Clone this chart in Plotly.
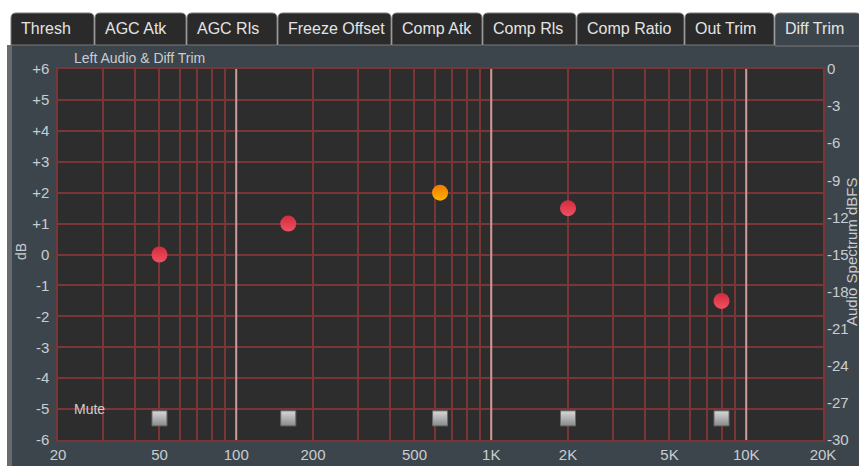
import math
import plotly.graph_objects as go

# ---------------- data ----------------
band_freqs = [50, 160, 630, 2000, 8000]
band_gain_db = [0, 1, 2, 1.5, -1.5]
band_selected = [False, False, True, False, False]
mute_slider_db = [-5.3, -5.3, -5.3, -5.3, -5.3]

x_label_vals = [20, 50, 100, 200, 500, 1000, 2000, 5000, 10000, 20000]
x_label_text = ["20", "50", "100", "200", "500", "1K", "2K", "5K", "10K", "20K"]
x_grid_vals = [20, 30, 40, 50, 60, 70, 80, 90,
               100, 200, 300, 400, 500, 600, 700, 800, 900,
               1000, 2000, 3000, 4000, 5000, 6000, 7000, 8000, 9000,
               10000, 20000]
decade_lines = [100, 1000, 10000]

y_left_vals = [6, 5, 4, 3, 2, 1, 0, -1, -2, -3, -4, -5, -6]
y_left_text = ["+6", "+5", "+4", "+3", "+2", "+1", "0", "-1", "-2", "-3", "-4", "-5", "-6"]
y_right_vals = [0, -3, -6, -9, -12, -15, -18, -21, -24, -27, -30]
y_right_text = ["0", "-3", "-6", "-9", "-12", "-15", "-18", "-21", "-24", "-27", "-30"]

tab_names = ["Thresh", "AGC Atk", "AGC Rls", "Freeze Offset", "Comp Atk",
             "Comp Rls", "Comp Ratio", "Out Trim", "Diff Trim"]
active_tab = "Diff Trim"

# ---------------- layout geometry (pixels) ----------------
W, H = 859, 466
PL, PR, PT, PB = 58, 823, 69, 440
tab_edges = [11, 95, 187, 278, 392, 483, 577, 685, 775, 862]
TAB_TOP, TAB_BOT = 13, 45


def X(px):
    return (px - PL) / (PR - PL)


def Y(py):
    return (PB - py) / (PB - PT)


PANEL = "#3c454c"
PLOT_BG = "#2d2d2d"
GRID = "#7a3636"
TXT = "#c9cdd1"
FONT = "Liberation Sans"

fig = go.Figure()

# decade highlight lines
for f in decade_lines:
    fig.add_trace(go.Scatter(x=[f, f], y=[y_left_vals[-1], y_left_vals[0]], mode="lines",
                             line=dict(color="#c99a9a", width=2), hoverinfo="skip",
                             showlegend=False))

# mute sliders
fig.add_trace(go.Scatter(
    x=band_freqs, y=mute_slider_db, mode="markers", showlegend=False,
    marker=dict(symbol="square", size=15, color="#d8d8d8",
                gradient=dict(type="vertical", color="#8a8a8a"),
                line=dict(color="#6a6a6a", width=1))))

# band gain points
cols = ["#f07800" if s else "#d42a3e" for s in band_selected]
grads = ["#ffb400" if s else "#ee5262" for s in band_selected]
for f, g, c, gc in zip(band_freqs, band_gain_db, cols, grads):
    fig.add_trace(go.Scatter(
        x=[f], y=[g], mode="markers", showlegend=False,
        marker=dict(symbol="circle", size=16, color=c,
                    gradient=dict(type="vertical", color=gc),
                    line=dict(color=c, width=0))))

# right axis dummy trace
fig.add_trace(go.Scatter(x=[band_freqs[0]], y=[y_right_vals[0]], yaxis="y2",
                         mode="markers", marker=dict(opacity=0), showlegend=False,
                         hoverinfo="skip"))

x_ticktext = [x_label_text[x_label_vals.index(v)] if v in x_label_vals else "" for v in x_grid_vals]

shapes = []
annotations = []

# white margin areas
shapes.append(dict(type="rect", xref="paper", yref="paper", x0=X(-2), x1=X(W + 2), y0=Y(-2), y1=Y(TAB_BOT),
                   fillcolor="white", line=dict(width=0), layer="below"))
shapes.append(dict(type="rect", xref="paper", yref="paper", x0=X(-2), x1=X(7), y0=Y(-2), y1=Y(H + 2),
                   fillcolor="white", line=dict(width=0), layer="below"))
shapes.append(dict(type="rect", xref="paper", yref="paper", x0=X(7), x1=X(12), y0=Y(TAB_BOT), y1=Y(H + 2),
                   fillcolor="#676b6e", line=dict(width=0), layer="below"))

# tabs
r = 5
for i, name in enumerate(tab_names):
    x0, x1 = tab_edges[i], tab_edges[i + 1] - 1
    active = name == active_tab
    fill = PANEL if active else "#2a2a2a"
    yb = TAB_BOT + (1 if active else 0)
    path = (f"M {X(x0)},{Y(yb)} L {X(x0)},{Y(TAB_TOP + r)} "
            f"Q {X(x0)},{Y(TAB_TOP)} {X(x0 + r)},{Y(TAB_TOP)} "
            f"L {X(x1 - r)},{Y(TAB_TOP)} Q {X(x1)},{Y(TAB_TOP)} {X(x1)},{Y(TAB_TOP + r)} "
            f"L {X(x1)},{Y(yb)} Z")
    shapes.append(dict(type="path", xref="paper", yref="paper", path=path,
                       fillcolor=fill, line=dict(color="#7a7a7a", width=1), layer="below"))
    annotations.append(dict(xref="paper", yref="paper", x=X(x0 + 8), y=Y(29),
                            text=name, showarrow=False, xanchor="left", yanchor="middle",
                            font=dict(family=FONT, size=16, color="#e4e4e4")))

annotations.append(dict(xref="paper", yref="paper", x=X(72), y=Y(58), text="Left Audio & Diff Trim",
                        showarrow=False, xanchor="left", yanchor="middle",
                        font=dict(family=FONT, size=14, color=TXT)))
annotations.append(dict(xref="paper", yref="paper", x=X(72), y=Y(409), text="Mute",
                        showarrow=False, xanchor="left", yanchor="middle",
                        font=dict(family=FONT, size=14, color=TXT)))
annotations.append(dict(xref="paper", yref="paper", x=X(21), y=Y(252), text="dB", textangle=-90,
                        showarrow=False, xanchor="center", yanchor="middle",
                        font=dict(family=FONT, size=14, color=TXT)))
annotations.append(dict(xref="paper", yref="paper", x=X(851), y=Y(252), text="Audio Spectrum dBFS",
                        textangle=-90, showarrow=False, xanchor="center", yanchor="middle",
                        font=dict(family=FONT, size=15, color=TXT)))

fig.update_layout(
    width=W, height=H, autosize=False,
    margin=dict(l=PL, r=W - PR, t=PT, b=H - PB, pad=0, autoexpand=False),
    paper_bgcolor=PANEL, plot_bgcolor=PLOT_BG,
    showlegend=False,
    shapes=shapes, annotations=annotations,
    xaxis=dict(type="log", range=[math.log10(x_grid_vals[0]), math.log10(x_grid_vals[-1])],
               tickmode="array", tickvals=x_grid_vals, ticktext=x_ticktext,
               showgrid=True, gridcolor=GRID, gridwidth=1.5, automargin=False,
               showline=True, linecolor=GRID, linewidth=1.5, mirror=True,
               ticks="", zeroline=False,
               tickfont=dict(family=FONT, size=15, color=TXT)),
    yaxis=dict(range=[y_left_vals[-1], y_left_vals[0]], tickmode="array",
               tickvals=y_left_vals, ticktext=y_left_text, automargin=False,
               showgrid=True, gridcolor=GRID, gridwidth=1.5,
               showline=True, linecolor=GRID, linewidth=1.5, mirror=True,
               ticks="", zeroline=False, ticklabelstandoff=4,
               tickfont=dict(family=FONT, size=15, color=TXT)),
    yaxis2=dict(overlaying="y", side="right", range=[y_right_vals[-1], y_right_vals[0]],
                tickmode="array", tickvals=y_right_vals, ticktext=y_right_text,
                showgrid=False, zeroline=False, showline=False, ticks="",
                ticklabelstandoff=3, automargin=False,
                tickfont=dict(family=FONT, size=15, color=TXT)),
)

fig.write_html("out.html", config={"displayModeBar": False},
               post_script="document.body.style.margin='0';document.body.style.padding='0';"
                           "document.body.style.overflow='hidden';")
